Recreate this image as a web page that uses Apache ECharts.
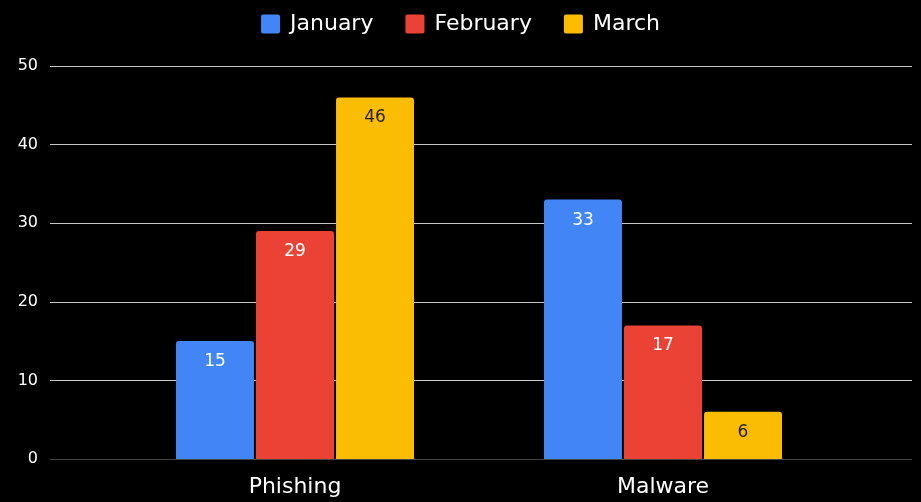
<!DOCTYPE html>
<html><head><meta charset="utf-8">
<script src="https://cdn.jsdelivr.net/npm/echarts@6/dist/echarts.min.js"></script>
<style>html,body{margin:0;padding:0;background:#000;}#c{width:921px;height:502px;}</style>
</head><body><div id="c"></div>
<script>
const categories = ['Phishing', 'Malware'];
const january = [15, 33];
const february = [29, 17];
const march = [46, 6];
const seriesNames = ['January', 'February', 'March'];
const yTicks = {min: 0, max: 50, interval: 10};

const colors = ['#4285F4', '#EA4335', '#FBBC04'];
const labelColors = ['#ffffff', '#ffffff', '#222222'];
const font = 'DejaVu Sans';
const chart = echarts.init(document.getElementById('c'), null, {renderer: 'canvas'});
const values = [january, february, march];
chart.setOption({
  backgroundColor: '#000',
  animation: false,
  textStyle: {fontFamily: font},
  legend: {
    top: 8, left: 'center', itemWidth: 19, itemHeight: 19, itemGap: 32,
    icon: 'path://M2,0H17Q19,0 19,2V17Q19,19 17,19H2Q0,19 0,17V2Q0,0 2,0Z',
    textStyle: {color: '#fff', fontSize: 22, fontFamily: font, padding: [0, 0, 0, 5]},
    data: seriesNames
  },
  grid: [
    {left: 50, right: 9, top: 66, bottom: 43},
    {left: 111, right: 74, top: 66, bottom: 43}
  ],
  xAxis: [
    {type: 'value', gridIndex: 0, show: false, min: 0, max: 1},
    {type: 'category', gridIndex: 1, data: categories,
     axisLine: {show: false}, axisTick: {show: false},
     axisLabel: {color: '#fff', fontSize: 22, margin: 17, fontFamily: font}}
  ],
  yAxis: [
    {type: 'value', gridIndex: 0, min: yTicks.min, max: yTicks.max, interval: yTicks.interval,
     axisLine: {show: false}, axisTick: {show: false},
     axisLabel: {color: '#fff', fontSize: 16, margin: 12, fontFamily: font},
     splitLine: {lineStyle: {color: ['#444', '#c8c8c8', '#c8c8c8', '#c8c8c8', '#c8c8c8', '#c8c8c8'], width: 1}}},
    {type: 'value', gridIndex: 1, min: yTicks.min, max: yTicks.max, interval: yTicks.interval, show: false}
  ],
  series: seriesNames.map((n, i) => ({
    name: n, type: 'bar', xAxisIndex: 1, yAxisIndex: 1,
    data: values[i], barWidth: 78, barGap: '2.6%',
    itemStyle: {color: colors[i], borderRadius: [3, 3, 0, 0]},
    label: {show: true, position: 'insideTop', distance: 12, color: labelColors[i], fontSize: 17, fontFamily: font}
  }))
});
</script></body></html>
